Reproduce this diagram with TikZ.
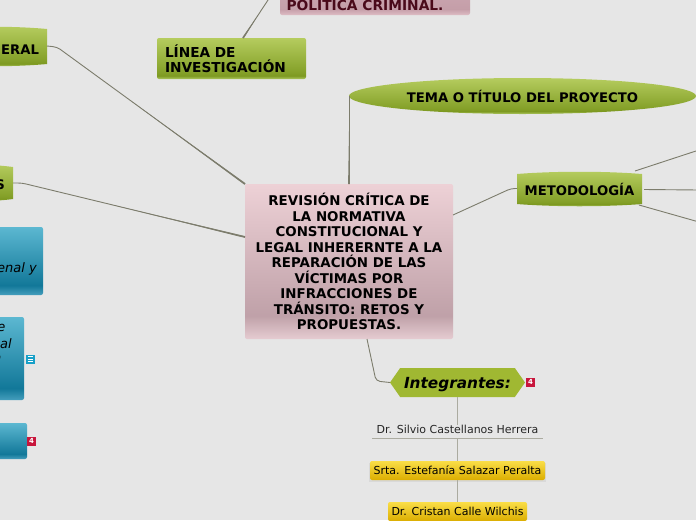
\documentclass[tikz,border=0pt]{standalone}
\usepackage{fontspec}
\setmainfont{DejaVu Sans}
\usetikzlibrary{positioning, shapes.geometric, shapes.symbols, calc}

\definecolor{paper}{HTML}{E6E6E6}
\definecolor{linkline}{HTML}{7C7C6C}
\definecolor{paleline}{HTML}{ABABA0}
\definecolor{maroontext}{HTML}{4A0A1A}
\definecolor{hexgreen}{HTML}{A0B832}
\definecolor{noteblue}{HTML}{18A0C8}
\definecolor{countred}{HTML}{C8163C}

% the path covers 25bp to 75bp of each shading
\pgfdeclareverticalshading{greenbar}{100bp}{rgb(0bp)=(.68,.78,.38);
  rgb(25bp)=(.68,.78,.38); rgb(29bp)=(.49,.60,.13); rgb(33bp)=(.52,.63,.16); rgb(75bp)=(.71,.80,.37); rgb(100bp)=(.71,.80,.37)}
\pgfdeclareverticalshading{pinkbar}{100bp}{rgb(0bp)=(.90,.80,.82);
  rgb(25bp)=(.90,.80,.82); rgb(32.5bp)=(.75,.63,.66); rgb(75bp)=(.93,.82,.84); rgb(100bp)=(.93,.82,.84)}
\pgfdeclareverticalshading{maroonbar}{100bp}{rgb(0bp)=(.87,.74,.77);
  rgb(25bp)=(.87,.74,.77); rgb(35bp)=(.77,.62,.66); rgb(75bp)=(.80,.66,.70); rgb(100bp)=(.80,.66,.70)}
\pgfdeclareverticalshading{bluebar}{100bp}{rgb(0bp)=(.27,.62,.74);
  rgb(25bp)=(.27,.62,.74); rgb(32bp)=(.07,.47,.60); rgb(75bp)=(.36,.72,.82); rgb(100bp)=(.36,.72,.82)}
\pgfdeclareverticalshading{yellowbar}{100bp}{rgb(0bp)=(.86,.68,.0);
  rgb(25bp)=(.86,.68,.0); rgb(75bp)=(.98,.87,.28); rgb(100bp)=(.98,.87,.28)}

% flat box with bulging top and bottom edges
\newcommand{\bulgebox}[4]{
  \shade[shading=greenbar] (#1,#2+3) .. controls ($(#1,#2)!.3!(#3,#2)$) and ($(#1,#2)!.7!(#3,#2)$) .. (#3,#2+3)
    -- (#3,#4-3) .. controls ($(#3,#4)!.3!(#1,#4)$) and ($(#3,#4)!.7!(#1,#4)$) .. (#1,#4-3) -- cycle;
}
% wedge that thickens a link towards its first end
\newcommand{\linkwedge}[2]{
  \fill[linkline] ($(#1)!.9pt!90:(#2)$) -- ($(#1)!.9pt!-90:(#2)$) -- ($(#1)!.6!(#2)$) -- cycle;
}

\begin{document}
\begin{tikzpicture}[
  x=1pt, y=-1pt,
  box/.style     = {rectangle, rounded corners=2pt, inner sep=0pt, outer sep=0pt},
  greenbox/.style = {box, shading=greenbar, font=\bfseries\fontsize{13.7}{15.5}\selectfont, align=left},
  bluebox/.style  = {box, shading=bluebar},
  plain/.style   = {inner sep=0pt, outer sep=0pt, font=\bfseries\fontsize{13.2}{15.5}\selectfont},
  slant/.style   = {inner sep=0pt, font=\itshape\fontsize{13}{15.5}\selectfont},
  namebox/.style = {box, shading=yellowbar, font=\fontsize{11}{13}\selectfont},
  link/.style    = {draw=linkline, line width=.9pt, rounded corners=4pt},
  sublink/.style = {draw=paleline, line width=1pt},
  note/.style    = {inner sep=0pt, outer sep=0pt, minimum size=9pt, fill=noteblue},
  count/.style   = {note, fill=countred, text=white, font=\bfseries\fontsize{7}{7}\selectfont},
]
  \fill[paper] (0,0) rectangle (696,520);
  \useasboundingbox (0,0) rectangle (696,520);
  \clip (0,0) rectangle (696,520);

  % free ends of the cut off links
  \coordinate (crimen)  at (270,-3);
  \coordinate (lineatop) at (243,38);
  \coordinate (metodoa) at (699,150);
  \coordinate (metodob) at (699,190);
  \coordinate (metodoc) at (699,222);
  \coordinate (cenleft) at (245,237);
  \coordinate (cenright) at (453,215);
  \coordinate (cenbelow) at (367,339);
  \coordinate (cenabove) at (349,184);
  \coordinate (metoa) at (635,171);
  \coordinate (metob) at (644,189.5);
  \coordinate (metoc) at (639,205);
  \coordinate (bendgen) at (57,47);
  \coordinate (bendes) at (22,183);

  % flat shapes under their texts
  \bulgebox{-60}{26}{47}{67}
  \bulgebox{-60}{164}{13}{202}
  \bulgebox{517}{171}{642}{207}

  \node[box, shading=pinkbar, minimum width=208pt, minimum height=155pt, align=center,
        font=\bfseries\fontsize{13.4}{15.5}\selectfont] (central) at (349,261.5)
    {REVISIÓN CRÍTICA DE\\LA NORMATIVA\\CONSTITUCIONAL Y\\LEGAL INHERERNTE A LA\\REPARACIÓN DE LAS\\VÍCTIMAS POR\\INFRACCIONES DE\\TRÁNSITO: RETOS Y\\PROPUESTAS.};

  \node[plain, anchor=east] (general) at (39,49.5) {GENERAL};
  \node[plain, anchor=east] (esbox) at (5,185) {S};
  \node[plain] (metodo) at (579.5,189) {METODOLOGÍA};

  \node[greenbox, minimum width=149pt, minimum height=41pt, text width=133pt] (linea) at (231.5,58.5)
    {LÍNEA DE\\INVESTIGACIÓN};
  \node[box, shading=maroonbar, minimum width=190pt, minimum height=30pt, anchor=south] (politica) at (375,15) {};
  \node[plain, text=maroontext, font=\bfseries\fontsize{13.8}{15.5}\selectfont] (politxt) at (365,4) {POLÍTICA CRIMINAL.};

  \node[ellipse, shading=greenbar, inner sep=0pt, outer sep=0pt, minimum width=347pt, minimum height=36pt,
        font=\bfseries\fontsize{13.2}{15.5}\selectfont] (tema) at (522.5,96) {TEMA O TÍTULO DEL PROYECTO};

  \node[signal, signal to=west and east, signal pointer angle=110, draw=none, fill=hexgreen, inner sep=0pt, outer sep=0pt,
        minimum width=135pt, minimum height=29pt, text depth=0pt,
        font=\bfseries\itshape\fontsize{15.3}{18}\selectfont] (integ) at (457.5,382.5) {\raisebox{-1.5pt}{Integrantes:}};

  % links of the central box
  \draw[link] (central.north west) -- (bendgen) -- (47,46);
  \draw[link] (cenleft) -- (bendes) -- (13,183);
  \draw[link] (cenabove) -- (tema.west);
  \draw[link] (cenright) -- (511,188.5) -- (517,188.5);
  \draw[link] (cenbelow) -- (376,381) -- (integ.west);
  \draw[link] (lineatop) -- (crimen);
  \draw[link] (metoa) -- (metodoa);
  \draw[link] (metob) -- (metodob);
  \draw[link] (metoc) -- (metodoc);

  % heavier ends next to the central box
  \linkwedge{central.north west}{bendgen}
  \linkwedge{cenleft}{bendes}
  \linkwedge{cenabove}{tema.west}
  \linkwedge{lineatop}{crimen}

  % blue boxes at the left edge
  \node[bluebox, minimum width=100pt, minimum height=68pt, anchor=east] (bluea) at (43,261) {};
  \node[bluebox, minimum width=100pt, minimum height=83pt, anchor=east] (blueb) at (24,358.5) {};
  \node[bluebox, minimum width=100pt, minimum height=36pt, anchor=east] (bluec) at (27,441) {};
  \node[slant, anchor=east] (blueatxt) at (37,269) {enal y};
  \node[slant, anchor=east] (bluebone) at (5.5,328) {e};
  \node[slant, anchor=east] (bluebtwo) at (12,344) {al};
  \node[slant, anchor=east] (bluebthree) at (1.5,359) {n};

  % small marks beside the boxes
  \node[note] (notea) at (30,359) {};
  \draw[white, line width=.8pt] (27.5,356.5) -- (32.5,356.5) (27.5,359) -- (32.5,359) (27.5,361.5) -- (32.5,361.5);
  \node[count] (counta) at (31.5,441) {4};
  \node[count] (countb) at (530.5,382) {4};

  % team members
  \node[inner sep=0pt, font=\fontsize{11}{13}\selectfont, text=black!85] (silvio) at (457.5,429) {Dr. Silvio Castellanos Herrera};
  \coordinate (silvioline) at (457.5,438);
  \draw[paleline, line width=1pt] (372,438) -- (543,438);
  \fill[black!15] (369,463) rectangle (546,481.5);
  \node[namebox, minimum width=175pt, minimum height=19pt] (estefania) at (457.5,470.5) {Srta. Estefanía Salazar Peralta};
  \node[namebox, minimum width=139pt, minimum height=19pt, anchor=north] (cristan) at (457.5,502) {Dr. Cristan Calle Wilchis};

  \draw[sublink] (integ.south) -- (silvio.north);
  \draw[sublink] (silvioline) -- (estefania.north);
  \draw[sublink] (estefania.south) -- (cristan.north);
\end{tikzpicture}
\end{document}
